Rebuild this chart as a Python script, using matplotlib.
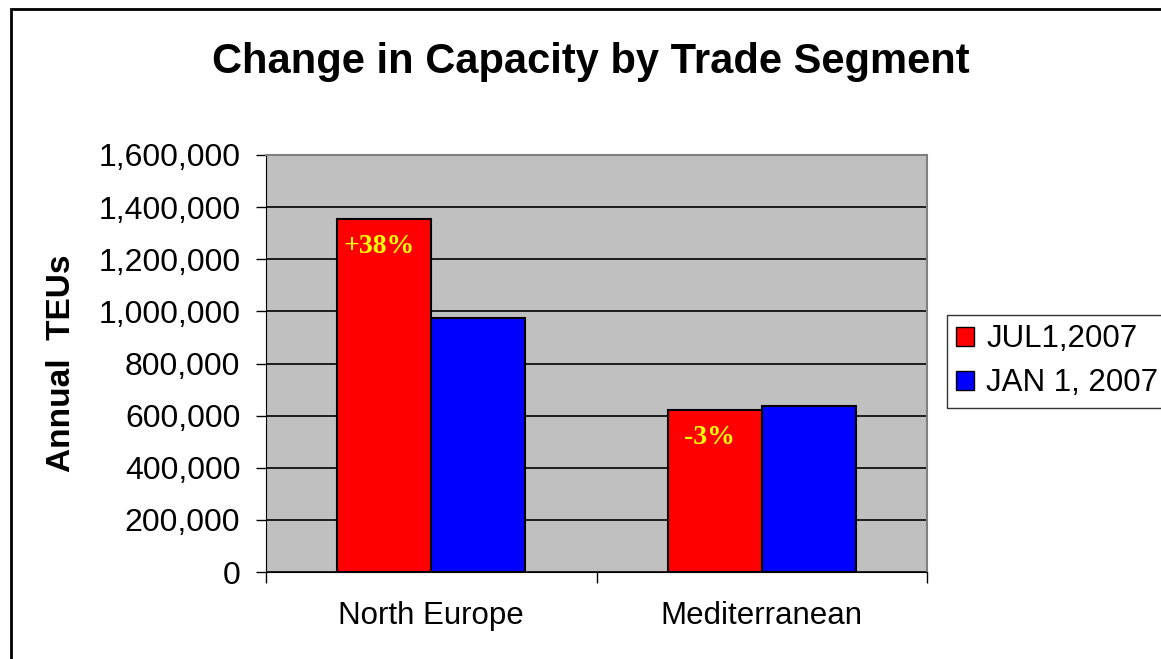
import matplotlib
matplotlib.use('Agg')
import matplotlib.pyplot as plt
from matplotlib.patches import Rectangle, Patch
from matplotlib.ticker import FuncFormatter
import numpy as np

SEGMENTS = ['North Europe', 'Mediterranean']
JUL_2007 = [1355000, 622000]
JAN_2007 = [975000, 637000]
CHANGE_LABELS = ['+38%', '-3%']
SERIES = ['JUL1,2007', 'JAN 1, 2007']

RED = '#FF0000'
BLUE = '#0000FF'
GRAY = '#C0C0C0'

plt.rcParams['font.family'] = ['Liberation Sans', 'DejaVu Sans']

W, H = 1161, 659
fig = plt.figure(figsize=(W / 100, H / 100), dpi=100)

# outer chart border (runs off the right/bottom edges)
fig.patches.append(Rectangle((11 / W, -0.05), 1.1, 1 - 9 / H + 0.05,
                             transform=fig.transFigure, fill=False,
                             edgecolor='black', lw=2))

ax = fig.add_axes([266 / W, 87 / H, 661 / W, 417 / H])
ax.set_facecolor(GRAY)

x = np.arange(len(SEGMENTS))
w = 0.285
b1 = ax.bar(x - w / 2, JUL_2007, w, color=RED, edgecolor='black', lw=1.5, zorder=3)
b2 = ax.bar(x + w / 2, JAN_2007, w, color=BLUE, edgecolor='black', lw=1.5, zorder=3)

for bar, lbl in zip(b1, CHANGE_LABELS):
    ax.annotate(lbl, (bar.get_x() + bar.get_width() / 2, bar.get_height()),
                xytext=(-5, -15), textcoords='offset pixels',
                ha='center', va='top', color='#FFFF00', fontsize=20,
                fontweight='bold', family=['Liberation Serif'], zorder=4)

ax.set_xlim(-0.5, 1.5)
ax.set_ylim(0, 1600000)
ax.set_yticks(np.arange(0, 1600001, 200000))
ax.yaxis.set_major_formatter(FuncFormatter(lambda v, p: f'{int(v):,}'))
ax.grid(True, axis='y', color='black', lw=1.2, zorder=1)
ax.set_axisbelow(True)

ax.set_xticks([-0.5, 0.5, 1.5])
ax.set_xticklabels([])
ax.set_xticks(x, minor=True)
ax.set_xticklabels(SEGMENTS, minor=True, fontsize=22.5)
ax.tick_params(axis='x', which='minor', length=0, pad=21)
ax.tick_params(axis='x', which='major', direction='out', length=8, width=1)
ax.tick_params(axis='y', direction='out', length=7, width=1, labelsize=23, pad=11.5)

for side in ['top', 'right']:
    ax.spines[side].set_color('#808080')
    ax.spines[side].set_linewidth(1.5)
ax.spines['left'].set_color('black')
ax.spines['bottom'].set_color('black')

fig.text(61 / W, 1 - 363 / H, 'Annual  TEUs', rotation=90, ha='center',
         va='center', fontsize=24, fontweight='bold')
fig.text(591 / W, 1 - 62 / H, 'Change in Capacity by Trade Segment',
         ha='center', va='center', fontsize=30, fontweight='bold')

handles = [Patch(facecolor=RED, edgecolor='black'),
           Patch(facecolor=BLUE, edgecolor='black')]
leg = fig.legend(handles, SERIES, loc='upper left',
                 bbox_to_anchor=(947 / W, 1 - 315 / H), fontsize=22.5,
                 frameon=True, fancybox=False, handlelength=0.55,
                 handleheight=0.55, handletextpad=0.4, borderpad=0.3,
                 labelspacing=0.45, borderaxespad=0)
leg.get_frame().set_edgecolor('black')
leg.get_frame().set_linewidth(1)

fig.savefig('out.png', dpi=100)
